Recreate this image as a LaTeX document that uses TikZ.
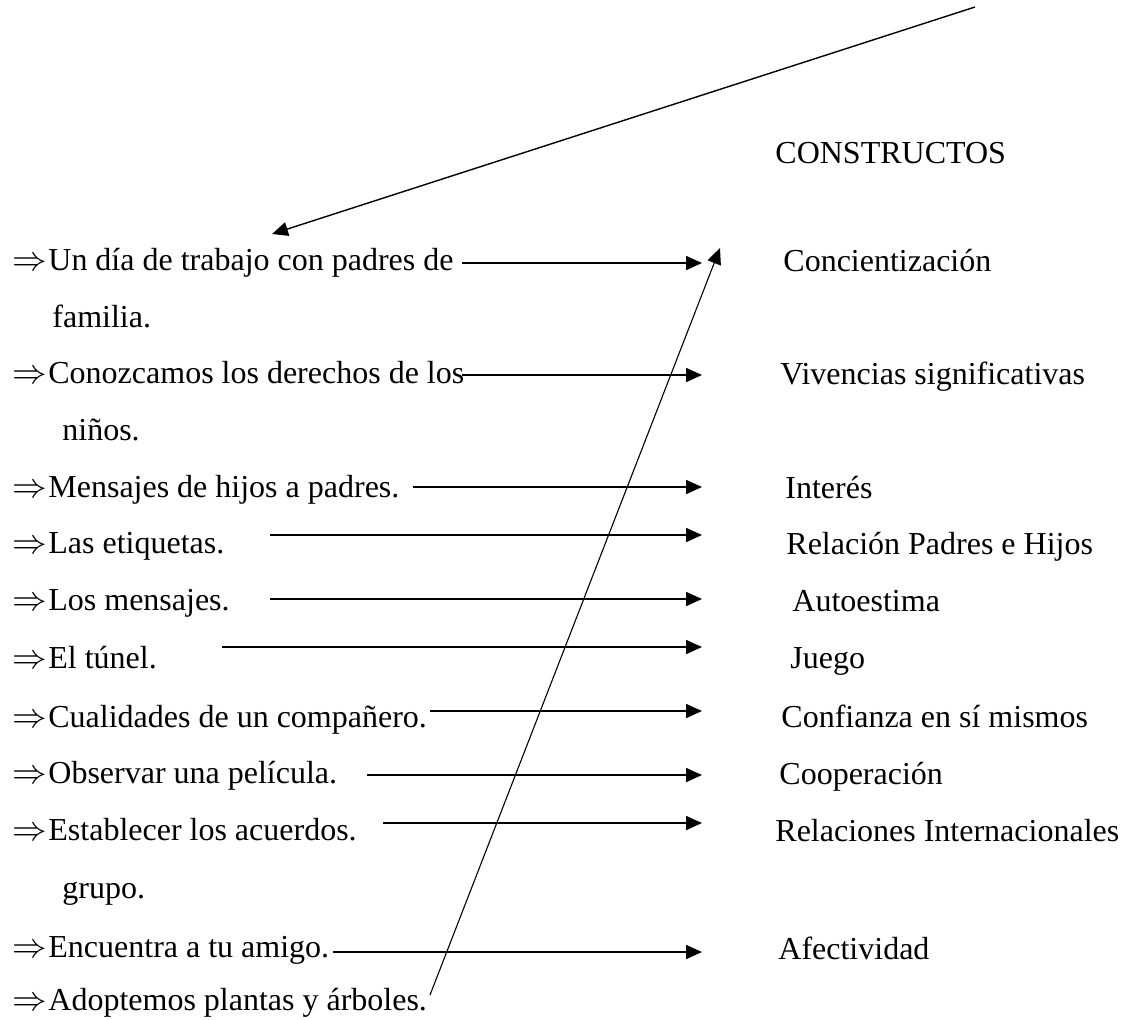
\documentclass[tikz,border=0pt]{standalone}
\usepackage{fontspec}
\setmainfont{Liberation Serif}
\usetikzlibrary{arrows.meta, positioning}

\tikzset{
  texto/.style={anchor=base west, inner sep=0pt, font=\fontsize{16}{19}\selectfont},
  flecha/.style={-{Triangle[length=8pt,width=7pt]}, line width=0.85pt},
  diagonal/.style={-{Triangle[length=8pt,width=7pt]}, line width=0.55pt},
}
\newcommand{\marca}{\makebox[18pt][l]{$\Rightarrow$}}

\begin{document}
\begin{tikzpicture}[x=0.5pt, y=-0.5pt]
  \useasboundingbox (0,0) rectangle (1123,1019);

  % Titulo de la columna derecha
  \node[texto] (titulo) at (775,163) {CONSTRUCTOS};

  % Actividades
  \foreach \n/\y/\t in {1/270/Un día de trabajo con padres de,
                        2/383/Conozcamos los derechos de los,
                        3/497/Mensajes de hijos a padres.,
                        4/553/Las etiquetas.,
                        5/610/Los mensajes.,
                        6/668/El túnel.,
                        7/727/Cualidades de un compañero.,
                        8/783/Observar una película.,
                        9/840/Establecer los acuerdos.,
                        10/957/Encuentra a tu amigo.,
                        11/1010/Adoptemos plantas y árboles.}{
    \node[texto] (act\n) at (12,\y) {\marca\t};
  }
  \node[texto] (cont1) at (52,327) {familia.};
  \node[texto] (cont2) at (62,440) {niños.};
  \node[texto] (cont3) at (62,898) {grupo.};

  % Constructos
  \foreach \n/\x/\y/\t in {1/783/271/Concientización,
                           2/780/384/Vivencias significativas,
                           3/785/498/Interés,
                           4/786/554/Relación Padres e Hijos,
                           5/792/611/Autoestima,
                           6/790/668/Juego,
                           7/781/727/Confianza en sí mismos,
                           8/779/784/Cooperación,
                           9/775/841/Relaciones Internacionales,
                           10/778/959/Afectividad}{
    \node[texto] (con\n) at (\x,\y) {\t};
  }

  % Flechas horizontales
  \foreach \n/\xs/\ys in {1/462/263, 2/462/375, 3/413/487, 4/270/535, 5/270/599,
                          6/222/647, 7/430/711, 8/367/775, 9/383/823, 10/333/952}{
    \coordinate (ini\n) at (\xs,\ys);
    \coordinate (fin\n) at (702,\ys);
    \draw[flecha] (ini\n) -- (fin\n);
  }

  % Flechas diagonales
  \coordinate (arriba) at (975,7);
  \coordinate (punta) at (272,234);
  \draw[flecha, line width=0.7pt] (arriba) -- (punta);
  \coordinate (base) at (430,995);
  \coordinate (cima) at (720,248);
  \draw[diagonal] (base) -- (cima);
\end{tikzpicture}
\end{document}
